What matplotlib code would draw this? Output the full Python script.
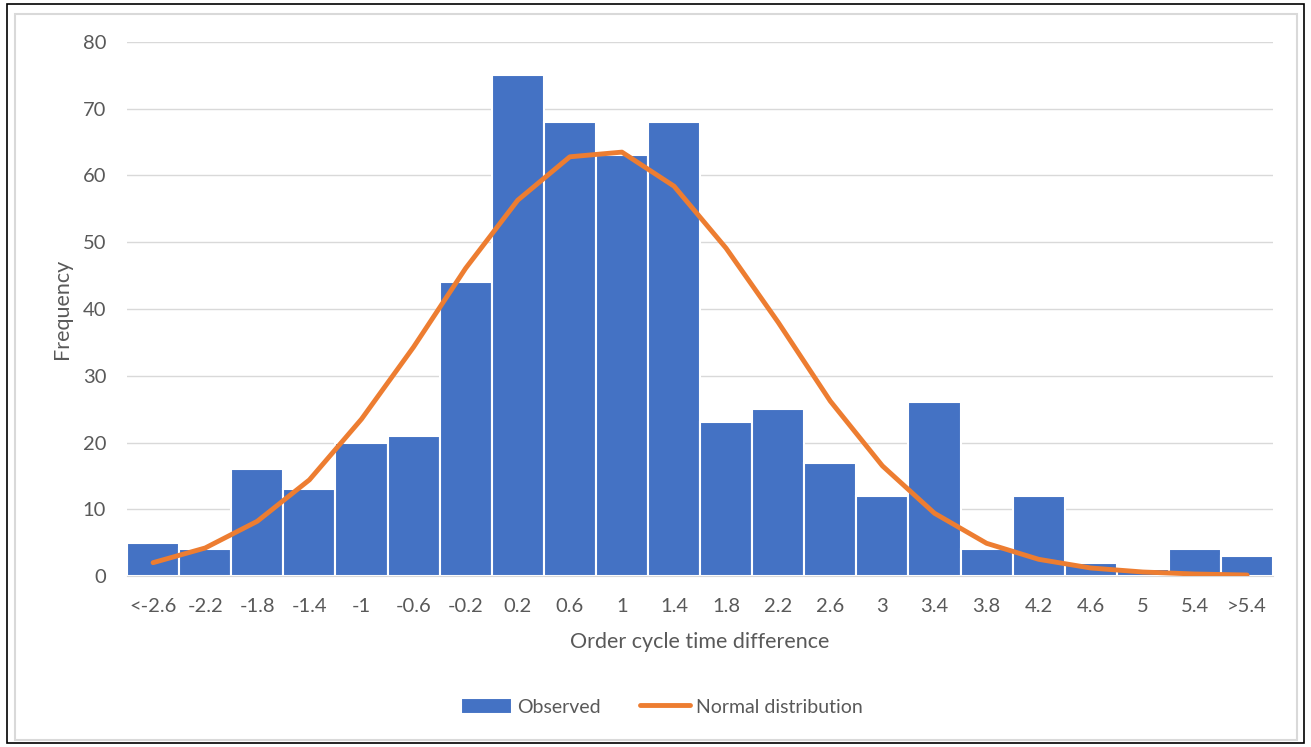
import matplotlib.pyplot as plt
import numpy as np
from matplotlib.patches import Rectangle

bins = ['<-2.6', '-2.2', '-1.8', '-1.4', '-1', '-0.6', '-0.2', '0.2', '0.6', '1', '1.4',
        '1.8', '2.2', '2.6', '3', '3.4', '3.8', '4.2', '4.6', '5', '5.4', '>5.4']
observed = [5, 4, 16, 13, 20, 21, 44, 75, 68, 63, 68, 23, 25, 17, 12, 26, 4, 12, 2, 1, 4, 3]
normal = [2.0, 4.2, 8.2, 14.4, 23.5, 34.3, 46.1, 56.3, 62.8, 63.5, 58.4, 49.1, 38.0,
          26.2, 16.5, 9.4, 4.9, 2.5, 1.2, 0.6, 0.3, 0.15]

plt.rcParams['font.family'] = ['Lato', 'DejaVu Sans']
grey = '#595959'

fig = plt.figure(figsize=(13.11, 7.47), dpi=100)
ax = fig.add_axes([0.0969, 0.2289, 0.8742, 0.7149])

# frame around the whole chart
fig.patches.append(Rectangle((0.005, 0.005), 0.99, 0.99, transform=fig.transFigure,
                             fill=False, edgecolor='black', linewidth=1.2))
fig.patches.append(Rectangle((0.0115, 0.0095), 0.9775, 0.972, transform=fig.transFigure,
                             fill=False, edgecolor='#d9d9d9', linewidth=1.5))

x = np.arange(len(bins))
bars = ax.bar(x, observed, width=1.0, color='#4472c4', edgecolor='white', linewidth=1.5,
              label='Observed', zorder=2)
line, = ax.plot(x, normal, color='#ed7d31', linewidth=3.5, solid_capstyle='round',
                label='Normal distribution', zorder=3)

ax.set_xlim(-0.5, len(bins) - 0.5)
ax.set_ylim(0, 80)
ax.set_yticks(range(0, 81, 10))
ax.set_xticks(x)
ax.set_xticklabels(bins)
ax.grid(axis='y', color='#d9d9d9', linewidth=1, zorder=0)
ax.set_axisbelow(True)
for s in ['top', 'right', 'left']:
    ax.spines[s].set_visible(False)
ax.spines['bottom'].set_color('#d9d9d9')
ax.tick_params(axis='both', length=0, labelsize=14.5, colors=grey)
ax.tick_params(axis='x', pad=16)
ax.tick_params(axis='y', pad=15)

ax.set_xlabel('Order cycle time difference', fontsize=15.5, color=grey, labelpad=12)
ax.set_ylabel('Frequency', fontsize=15.5, color=grey)
ax.yaxis.set_label_coords(-0.048, 0.5)

fig.legend([bars, line], ['Observed', 'Normal distribution'], loc='center',
           bbox_to_anchor=(0.505, 0.054), ncol=2, frameon=False,
           fontsize=14, labelcolor=grey, handlelength=2.6, handleheight=0.9,
           columnspacing=2.0, handletextpad=0.3)

fig.savefig('out.png', dpi=100)
